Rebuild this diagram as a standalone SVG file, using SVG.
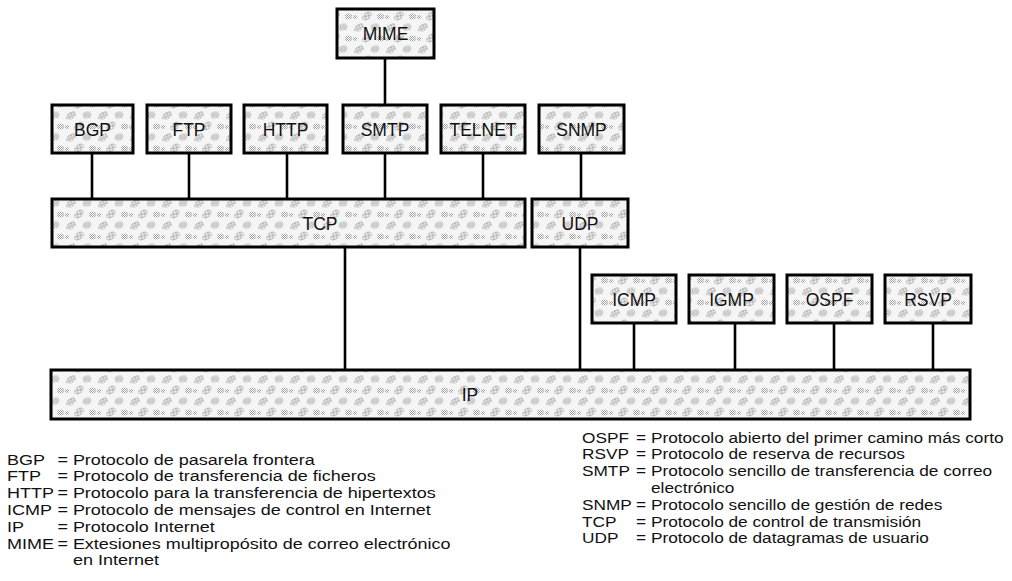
<svg xmlns="http://www.w3.org/2000/svg" width="1012" height="581" viewBox="0 0 1012 581">
<style>
.box{fill:url(#stip);stroke:#000;stroke-width:3}
.lbl{font-family:"Liberation Sans",Arial,sans-serif;font-size:17.5px;text-anchor:middle;fill:#111}
.leg{font-family:"Liberation Sans",Arial,sans-serif;font-size:15px;fill:#111}
.con{stroke:#000;stroke-width:2.6;fill:none}
</style>
<defs>
<pattern id="dith" width="2" height="2" patternUnits="userSpaceOnUse">
<rect width="2" height="2" fill="#fff"/>
<rect width="1" height="1" fill="#a0a0a0"/>
<rect x="1" y="1" width="1" height="1" fill="#a0a0a0"/>
</pattern>
<pattern id="stip" width="32" height="22" patternUnits="userSpaceOnUse">
<rect width="32" height="22" fill="#f5f5f5"/>
<ellipse cx="7" cy="5.5" rx="5.5" ry="3.5" transform="rotate(-35 7 5.5)" fill="url(#dith)"/>
<ellipse cx="23" cy="5" rx="4.5" ry="3.5" transform="rotate(-20 23 5)" fill="url(#dith)"/>
<ellipse cx="15" cy="16" rx="5.5" ry="3.5" transform="rotate(-40 15 16)" fill="url(#dith)"/>
<ellipse cx="28.5" cy="16.5" rx="3.5" ry="3" fill="url(#dith)"/>
<ellipse cx="3" cy="17" rx="2.2" ry="2" fill="url(#dith)"/>
</pattern>
</defs>

<g id="connectors">
<line class="con" x1="385" y1="58" x2="385" y2="105"/>
<line class="con" x1="92" y1="153" x2="92" y2="199"/>
<line class="con" x1="189" y1="153" x2="189" y2="199"/>
<line class="con" x1="287" y1="153" x2="287" y2="199"/>
<line class="con" x1="385" y1="153" x2="385" y2="199"/>
<line class="con" x1="483" y1="153" x2="483" y2="199"/>
<line class="con" x1="581" y1="153" x2="581" y2="199"/>
<line class="con" x1="345" y1="247" x2="345" y2="370"/>
<line class="con" x1="580" y1="247" x2="580" y2="370"/>
<line class="con" x1="634" y1="323" x2="634" y2="370"/>
<line class="con" x1="735" y1="323" x2="735" y2="370"/>
<line class="con" x1="834" y1="323" x2="834" y2="370"/>
<line class="con" x1="933" y1="323" x2="933" y2="370"/>
</g>

<g id="MIME"><rect class="box" x="337" y="9" width="97" height="49"/><text class="lbl" x="385.5" y="40">MIME</text></g>
<g id="BGP"><rect class="box" x="52" y="105" width="81" height="48"/><text class="lbl" x="92.5" y="135.5">BGP</text></g>
<g id="FTP"><rect class="box" x="147" y="105" width="84" height="48"/><text class="lbl" x="189" y="135.5">FTP</text></g>
<g id="HTTP"><rect class="box" x="244" y="105" width="83" height="48"/><text class="lbl" x="285.5" y="135.5">HTTP</text></g>
<g id="SMTP"><rect class="box" x="343" y="105" width="84" height="48"/><text class="lbl" x="385" y="135.5">SMTP</text></g>
<g id="TELNET"><rect class="box" x="441" y="105" width="84" height="48"/><text class="lbl" x="483" y="135.5">TELNET</text></g>
<g id="SNMP"><rect class="box" x="539" y="105" width="85" height="48"/><text class="lbl" x="581.5" y="135.5">SNMP</text></g>
<g id="TCP"><rect class="box" x="52" y="199" width="473" height="48"/><text class="lbl" x="320" y="229.5">TCP</text></g>
<g id="UDP"><rect class="box" x="532" y="199" width="96" height="48"/><text class="lbl" x="580" y="229.5">UDP</text></g>
<g id="ICMP"><rect class="box" x="592" y="275" width="84" height="48"/><text class="lbl" x="634" y="305.5">ICMP</text></g>
<g id="IGMP"><rect class="box" x="689" y="275" width="85" height="48"/><text class="lbl" x="731.5" y="305.5">IGMP</text></g>
<g id="OSPF"><rect class="box" x="787" y="275" width="85" height="48"/><text class="lbl" x="829.5" y="305.5">OSPF</text></g>
<g id="RSVP"><rect class="box" x="885" y="275" width="86" height="48"/><text class="lbl" x="928" y="305.5">RSVP</text></g>
<g id="IP"><rect class="box" x="51" y="370" width="919" height="49"/><text class="lbl" x="470" y="401">IP</text></g>

<g id="legend-left" transform="translate(7 0) scale(1.2 1)">
<text class="leg" x="0" y="464.6">BGP</text><text class="leg" x="42" y="464.6">= Protocolo de pasarela frontera</text>
<text class="leg" x="0" y="481.4">FTP</text><text class="leg" x="42" y="481.4">= Protocolo de transferencia de ficheros</text>
<text class="leg" x="0" y="498.2">HTTP</text><text class="leg" x="42" y="498.2">= Protocolo para la transferencia de hipertextos</text>
<text class="leg" x="0" y="515">ICMP</text><text class="leg" x="42" y="515">= Protocolo de mensajes de control en Internet</text>
<text class="leg" x="0" y="531.8">IP</text><text class="leg" x="42" y="531.8">= Protocolo Internet</text>
<text class="leg" x="0" y="548.6">MIME</text><text class="leg" x="42" y="548.6">= Extesiones multipropósito de correo electrónico</text>
<text class="leg" x="55" y="565.4">en Internet</text>
</g>

<g id="legend-right" transform="translate(582 0) scale(1.15 1)">
<text class="leg" x="0" y="442.6">OSPF</text><text class="leg" x="47" y="442.6">= Protocolo abierto del primer camino más corto</text>
<text class="leg" x="0" y="459.4">RSVP</text><text class="leg" x="47" y="459.4">= Protocolo de reserva de recursos</text>
<text class="leg" x="0" y="476.2">SMTP</text><text class="leg" x="47" y="476.2">= Protocolo sencillo de transferencia de correo</text>
<text class="leg" x="60" y="493">electrónico</text>
<text class="leg" x="0" y="509.8">SNMP</text><text class="leg" x="47" y="509.8">= Protocolo sencillo de gestión de redes</text>
<text class="leg" x="0" y="526.6">TCP</text><text class="leg" x="47" y="526.6">= Protocolo de control de transmisión</text>
<text class="leg" x="0" y="543.4">UDP</text><text class="leg" x="47" y="543.4">= Protocolo de datagramas de usuario</text>
</g>
</svg>
